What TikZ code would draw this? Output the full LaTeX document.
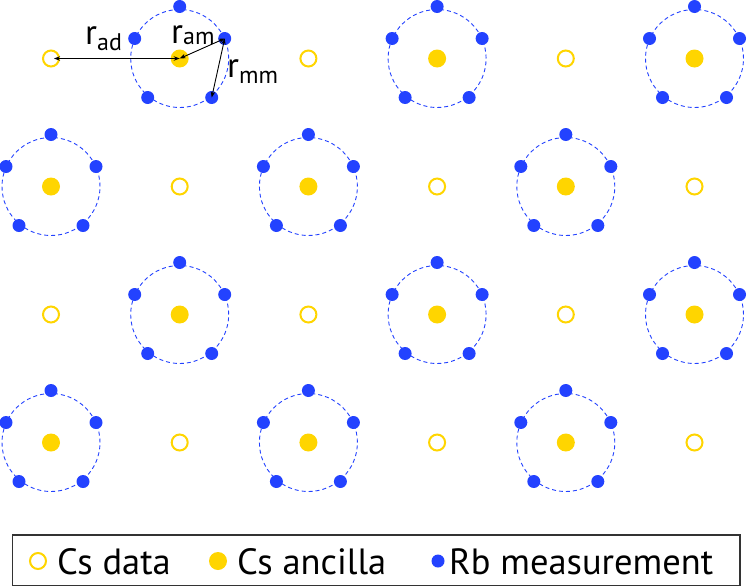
\documentclass[tikz,border=0pt]{standalone}
\usepackage{fontspec}
\setmainfont{PT Sans}
\usetikzlibrary{arrows.meta, positioning}
\definecolor{csgold}{RGB}{255,213,0}
\definecolor{rbblue}{RGB}{35,66,255}

\newcommand{\subtxt}[2][-6pt]{\raisebox{#1}{\fontsize{24}{26}\selectfont #2}}

\begin{document}
\begin{tikzpicture}[x=1pt, y=-1pt,
                    data/.style={circle, draw=csgold, line width=2pt, fill=white, minimum size=16pt, inner sep=0pt},
                    anc/.style={circle, fill=csgold, minimum size=18pt, inner sep=0pt},
                    meas/.style={circle, fill=rbblue, minimum size=13pt, inner sep=0pt},
                    ring/.style={draw=rbblue, line width=0.9pt, dash pattern=on 4pt off 3pt},
                    dist/.style={{Stealth[length=6pt,width=4.5pt]}-{Stealth[length=6pt,width=4.5pt]}, line width=0.9pt},
                    lbl/.style={inner sep=0pt, anchor=base west, font=\fontsize{35}{38}\selectfont},
                    legtext/.style={inner sep=0pt, anchor=base west, font=\fontsize{36.5}{40}\selectfont}]

\useasboundingbox (0,0) rectangle (747,587);

% Lattice of sites
\foreach \i in {0,...,5} {
  \foreach \j in {0,...,3} {
    \pgfmathtruncatemacro\odd{mod(\i+\j,2)}
    \ifnum\odd=1
      \draw[ring] (51+128.7*\i, 58.5+128*\j) circle (49pt);
      \node[anc] (s\i\j) at (51+128.7*\i, 58.5+128*\j) {};
      \foreach \dx/\dy [count=\k] in {0/-52, 45/-20, 32/39, -32/39, -45/-20}
        \node[meas] (m\i\j-\k) at (51+128.7*\i+\dx, 58.5+128*\j+\dy) {};
    \else
      \node[data] (s\i\j) at (51+128.7*\i, 58.5+128*\j) {};
    \fi
  }
}

% Distances
\draw[dist, shorten <=3pt] (s00.center) -- (s10.center);
\draw[dist] (s10.center) -- (m10-2.center);
\draw[dist] (m10-2.center) -- (m10-3.center);

\node[lbl] (lad) at (85,44.3)  {r\subtxt{ad}};
\node[lbl] (lam) at (171,43.3) {r\subtxt[-1pt]{am}};
\node[lbl] (lmm) at (227,77.7) {r\subtxt{mm}};

% Legend
\draw[line width=1.2pt, draw=black!80] (12.5,535) rectangle (740,585.5);
\node[data] (kdata) at (38,561) {};
\node[anc]  (kanc)  at (218,561) {};
\node[meas] (kmeas) at (438,561) {};
\node[legtext] (tdata) at (57,574)  {Cs data};
\node[legtext] (tanc)  at (237,574) {Cs ancilla};
\node[legtext] (tmeas) at (449,574) {Rb measurement};

\end{tikzpicture}
\end{document}
